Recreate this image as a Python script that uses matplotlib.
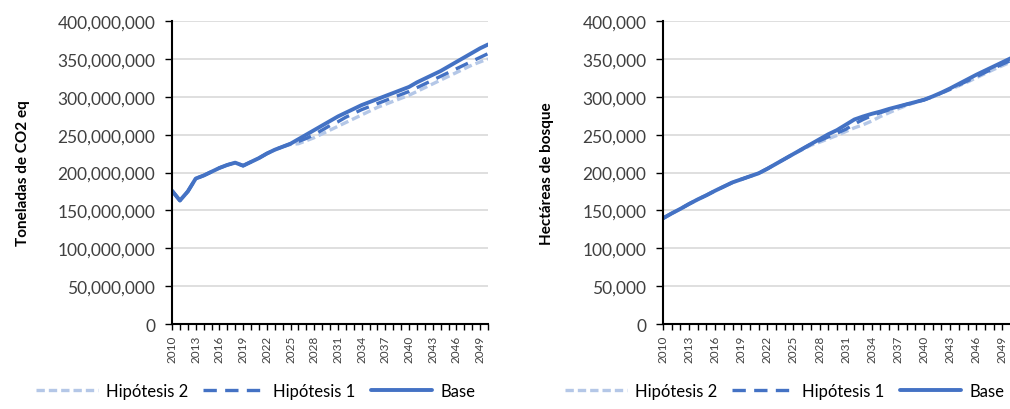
import matplotlib.pyplot as plt
from matplotlib.ticker import FuncFormatter

plt.rcParams['font.family'] = ['Lato', 'DejaVu Sans']

anios = list(range(2010, 2051))

# Toneladas de CO2 eq (millones)
co2_base = [176, 163, 175, 192, 196, 201, 206, 210, 213, 209,
            214, 219, 225, 230, 234, 238, 244, 250, 256, 262,
            268, 274, 279, 284, 289, 293, 297, 301, 305, 309,
            313, 319, 324, 329, 334, 340, 346, 352, 358, 364, 369]
co2_hip1 = [176, 163, 175, 192, 196, 201, 206, 210, 213, 209,
            214, 219, 225, 230, 234, 238, 241, 245, 250, 256,
            262, 267, 273, 278, 283, 287, 291, 295, 299, 303,
            307, 312, 317, 322, 327, 332, 337, 342, 347, 352, 357]
co2_hip2 = [176, 163, 175, 192, 196, 201, 206, 210, 213, 209,
            214, 219, 225, 230, 234, 237, 238, 242, 246, 251,
            256, 261, 266, 271, 276, 281, 286, 290, 294, 298,
            302, 307, 312, 317, 322, 327, 332, 337, 342, 346, 350]

# Hectáreas de bosque (miles)
bosque_base = [139.5, 146, 152, 158.5, 164.5, 170, 176, 181.5, 187, 191,
               195, 199, 205, 211.5, 218, 224.5, 231, 237.5, 244, 250.5,
               256, 263, 270, 274, 277.5, 280.5, 284, 287, 290, 293,
               296, 300.5, 305.5, 311, 317, 323, 329, 334.5, 340, 345.5, 351]
bosque_hip1 = [139.5, 146, 152, 158.5, 164.5, 170, 176, 181.5, 187, 191,
               195, 199, 205, 211.5, 218, 224.5, 231, 237.5, 242, 247,
               252, 257, 264, 270, 275, 279, 283, 286.5, 290, 293,
               296, 300, 305, 310, 315.5, 321, 326.5, 332, 337.5, 343, 348]
bosque_hip2 = [139.5, 146, 152, 158.5, 164.5, 170, 176, 181.5, 187, 191,
               195, 199, 205, 211.5, 218, 224.5, 230, 236, 240, 244.5,
               249, 254, 259, 263, 268, 274, 279, 284, 288.5, 292.5,
               296, 300, 304.5, 309.5, 314.5, 319.5, 325, 330.5, 336, 341, 346]

azul = '#4472C4'
azul_claro = '#B4C7E7'

fig = plt.figure(figsize=(10.1, 4.1), dpi=100)
ax1 = fig.add_axes([0.1703, 0.2073, 0.3129, 0.739])
ax2 = fig.add_axes([0.6564, 0.2073, 0.3446, 0.739])


def dibujar(ax, base, hip1, hip2, escala, ylabel):
    ax.plot(anios, [v * escala for v in hip2], color=azul_claro, lw=2.4,
            dashes=(2.5, 1.2), label='Hipótesis 2')
    ax.plot(anios, [v * escala for v in hip1], color=azul, lw=2.4,
            dashes=(4, 2.5), label='Hipótesis 1')
    ax.plot(anios, [v * escala for v in base], color=azul, lw=2.8,
            solid_capstyle='round', label='Base')
    ax.set_xlim(2010, 2050)
    ax.set_ylim(0, 400 * escala)
    ax.set_yticks([i * 50 * escala for i in range(9)])
    ax.yaxis.set_major_formatter(FuncFormatter(lambda v, p: f'{v:,.0f}'))
    ax.set_xticks(anios[::3])
    ax.set_xticklabels([str(a) for a in anios[::3]], rotation=90, fontsize=8.5,
                       color='#404040')
    ax.set_xticks(anios, minor=True)
    ax.tick_params(axis='x', which='both', length=4, width=1, direction='out')
    ax.tick_params(axis='y', length=5, width=1, labelsize=12.5,
                   labelcolor='#404040', pad=7)
    ax.grid(axis='y', color='#D9D9D9', lw=1.2)
    ax.set_axisbelow(True)
    for s in ['top', 'right']:
        ax.spines[s].set_visible(False)
    for s in ['left', 'bottom']:
        ax.spines[s].set_linewidth(1.5)
    ax.set_ylabel(ylabel, fontsize=11, fontweight='bold', color='#000000',
                  labelpad=20)


dibujar(ax1, co2_base, co2_hip1, co2_hip2, 1e6, 'Toneladas de CO2 eq')
dibujar(ax2, bosque_base, bosque_hip1, bosque_hip2, 1e3, 'Hectáreas de bosque')

opciones = dict(loc='center', ncol=3, frameon=False, fontsize=12,
                handlelength=3.7, columnspacing=0.9, handletextpad=0.5)
ax1.legend(bbox_to_anchor=(0.265, -0.22), **opciones)
ax2.legend(bbox_to_anchor=(0.35, -0.22), **opciones)

fig.savefig('out.png', dpi=100)
